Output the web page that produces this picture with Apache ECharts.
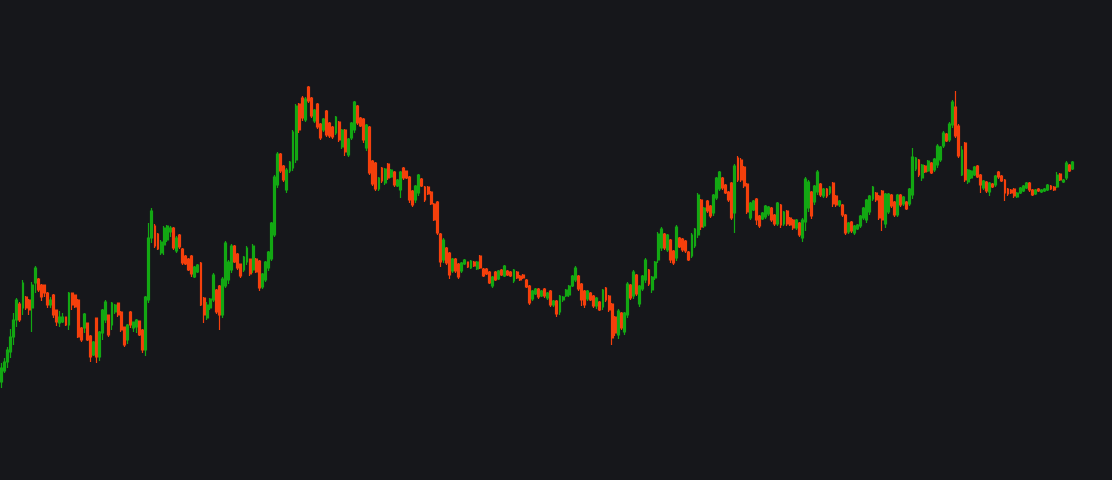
<!DOCTYPE html>
<html>
<head>
<meta charset="utf-8">
<style>
  html, body { margin: 0; padding: 0; background: #16171b; }
  #chart { width: 1112px; height: 480px; }
</style>
<script src="https://cdn.jsdelivr.net/npm/echarts@6/dist/echarts.min.js"></script>
</head>
<body>
<div id="chart"></div>
<script>
// open / close / low / high per session
var opens = [
  98,109,118,128,143,160,176,172,183,180,172,197,201,195,195,187,175,185,170,157,158,163,155,187,185,180,152,152,
  157,144,125,162,123,147,160,165,155,168,177,168,153,140,168,152,153,159,150,130,
  180,242,254,246,227,235,240,248,252,229,245,231,224,221,224,203,208,217,182,162,172,180,190,194,165,194,200,210,234,226,216,210,218,221,210,221,219,193,200,212,221,245,
  295,326,314,290,309,312,320,376,382,360,393,382,359,376,356,350,369,357,353,347,358,333,350,325,342,350,374,362,361,332,353,319,317,291,312,297,316,303,308,294,290,312,
  309,303,289,280,287,301,293,293,288,276,278,246,220,232,227,209,221,216,209,216,218,212,218,211,224,211,211,208,194,208,201,210,204,209,208,199,208,204,205,200,194,
  181,186,191,184,191,182,189,175,179,168,180,184,185,194,200,204,196,189,181,187,184,174,178,173,192,184,176,163,145,167,148,165,195,184,205,176,191,200,210,190,202,220,232,246,
  230,240,229,222,242,241,239,228,224,234,245,280,254,279,274,267,282,291,302,295,288,297,267,322,320,313,296,262,270,281,264,261,263,266,272,265,256,275,256,269,262,260,
  252,257,242,258,272,288,278,288,296,284,291,287,297,284,275,275,265,248,258,247,251,254,262,260,268,281,287,284,289,256,268,285,278,265,285,276,278,276,285,311,320,302,
  314,309,317,310,315,320,334,346,340,355,373,354,305,337,298,302,305,314,305,292,298,288,296,295,308,304,300,291,290,291,283,287,289,292,297,290,286,291,288,289,290,294,293,293,306,298,302,315,311
];
var closes = [
  112,118,130,143,160,180,160,197,172,170,195,212,190,183,187,175,180,165,158,163,163,155,187,175,173,143,140,166,
  140,123,138,123,148,170,178,145,177,175,165,150,135,155,155,158,160,145,130,183,
  242,269,234,231,238,252,254,252,232,242,233,217,216,210,206,213,215,175,165,175,181,205,168,165,201,237,218,234,218,212,204,223,232,206,234,208,192,206,218,228,257,303,
  326,309,300,310,318,348,374,350,362,381,379,364,370,353,342,361,345,344,343,363,340,350,328,341,357,378,357,354,340,355,307,296,291,302,299,311,302,310,295,300,308,302,
  302,280,275,294,305,294,280,286,276,260,247,218,240,217,205,221,209,203,217,220,213,219,214,218,212,204,206,197,203,200,209,205,214,205,204,210,202,200,202,193,177,
  189,191,183,189,184,187,175,179,166,184,183,190,194,204,212,191,180,175,189,180,174,182,170,190,180,170,142,147,169,152,167,196,182,208,186,194,204,220,196,203,218,246,251,232,
  245,220,217,253,233,230,229,220,245,251,285,253,272,269,264,285,302,308,292,287,280,262,314,300,300,294,268,277,279,260,254,267,274,273,260,256,277,255,268,256,255,252,
  260,245,260,301,298,264,294,308,285,291,284,293,276,275,279,265,247,257,249,254,255,264,272,280,284,293,280,262,260,286,286,274,265,285,275,283,271,291,323,322,305,315,
  308,319,307,321,334,333,347,339,356,378,344,324,330,300,310,309,313,303,295,299,289,297,293,304,303,299,287,286,287,284,287,292,294,297,290,285,290,289,290,291,295,291,290,305,300,300,317,309,318
];
var lows = [
  92,107,112,122,135,153,158,165,170,165,148,187,188,179,183,172,172,162,154,153,157,154,150,170,172,142,138,147,
  139,118,124,117,119,140,157,143,150,166,163,148,133,136,152,148,147,144,127,124,
  177,237,232,230,225,225,238,243,230,227,231,215,215,209,203,202,207,174,157,160,170,178,166,150,162,192,196,207,217,210,202,208,215,204,207,207,189,191,198,209,219,243,
  292,307,298,287,307,309,317,347,359,358,377,362,357,351,340,348,343,342,341,345,338,331,324,323,340,347,355,353,337,329,305,294,289,289,297,295,300,302,293,293,282,300,
  301,277,273,277,284,293,278,285,275,259,245,213,217,215,201,207,207,201,207,215,212,211,213,210,211,203,205,196,192,199,200,204,203,204,203,197,201,199,201,192,175,
  179,185,181,183,182,180,173,173,163,165,178,183,183,193,198,189,174,172,179,179,172,171,169,170,178,168,135,144,141,150,145,162,180,181,184,173,189,197,194,187,200,217,229,230,
  228,217,215,219,232,228,227,219,222,232,242,250,252,267,262,264,280,289,290,286,278,260,247,298,298,292,266,260,269,255,252,260,261,264,258,254,254,252,254,254,254,250,
  250,243,238,249,268,261,275,285,283,282,282,285,273,273,273,263,245,246,247,245,250,252,260,257,265,279,278,260,249,252,266,272,263,263,273,274,270,274,281,309,303,299,
  307,308,306,308,312,318,332,338,338,352,342,322,304,298,296,301,304,302,287,290,287,284,292,293,301,298,279,284,286,282,282,286,288,291,288,284,285,288,287,288,289,290,289,292,299,297,300,308,310
];
var highs = [
  117,122,133,151,167,182,178,200,184,181,198,214,202,196,195,188,183,186,170,169,167,163,188,187,185,181,153,167,
  157,145,139,162,149,171,180,165,178,176,177,169,153,156,169,158,161,159,151,184,
  257,272,256,247,240,254,255,254,253,244,246,232,225,222,225,214,216,218,183,178,182,207,191,195,203,239,220,236,235,227,216,224,234,221,236,222,220,207,219,229,258,305,
  328,327,315,312,319,350,376,377,384,383,394,383,371,377,357,362,370,358,354,364,359,351,351,342,358,379,375,363,362,356,354,320,318,303,313,312,317,311,309,301,309,313,
  309,304,290,295,306,302,294,294,289,277,279,247,242,233,228,222,222,217,218,221,218,220,219,219,225,212,212,209,204,209,210,211,215,210,209,211,209,205,206,201,195,
  190,192,192,190,192,188,190,180,180,185,184,191,195,205,214,205,197,190,190,188,185,183,179,191,193,185,177,164,171,168,168,198,196,210,206,195,205,222,211,204,219,248,253,247,
  246,241,230,255,243,242,240,229,247,252,287,281,273,280,275,286,303,309,303,296,289,298,316,324,322,314,297,278,280,282,265,268,275,274,273,266,278,276,269,270,263,261,
  261,258,262,303,300,289,295,310,297,292,292,294,298,285,280,276,266,258,259,255,256,265,273,281,285,294,288,285,290,287,287,286,279,286,286,284,279,292,332,323,321,316,
  315,320,318,322,336,334,349,347,358,380,389,356,334,338,311,310,314,315,306,300,299,298,297,305,309,305,301,292,291,292,288,293,295,298,298,291,291,292,291,292,296,295,294,308,307,301,319,316,319
];
var upColor = '#13a813';
var downColor = '#f5400c';

var categories = opens.map(function (v, i) { return i + 1; });
var candles = opens.map(function (o, i) {
  return [o, closes[i], lows[i], highs[i]];
});

var chart = echarts.init(document.getElementById('chart'));
chart.setOption({
  animation: false,
  backgroundColor: '#16171b',
  grid: {
    left: -1,
    right: 38,
    top: 0,
    bottom: 0
  },
  xAxis: {
    type: 'category',
    data: categories,
    show: false
  },
  yAxis: {
    type: 'value',
    min: 0,
    max: 480,
    show: false
  },
  series: [{
    type: 'candlestick',
    barWidth: 2.4,
    data: candles,
    itemStyle: {
      color: upColor,
      color0: downColor,
      borderColor: upColor,
      borderColor0: downColor,
      borderWidth: 1.2
    }
  }]
});
</script>
</body>
</html>
